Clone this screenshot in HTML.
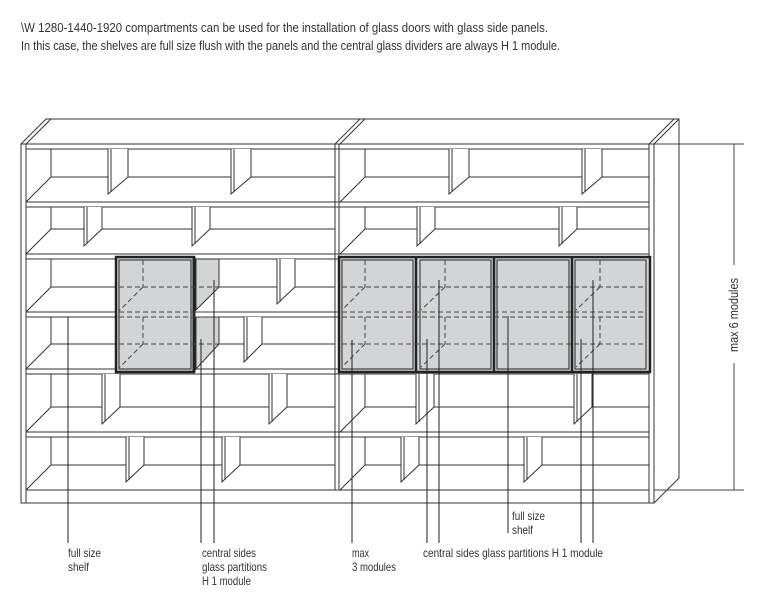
<!DOCTYPE html>
<html><head><meta charset="utf-8"><style>
html,body{margin:0;padding:0;background:#fff;}
svg{display:block;}
text{font-family:"Liberation Sans",sans-serif;fill:#333;}
</style></head><body>
<svg width="784" height="609" viewBox="0 0 784 609" xmlns="http://www.w3.org/2000/svg">
<text x="21" y="32" font-size="13" textLength="527" lengthAdjust="spacingAndGlyphs">\W 1280-1440-1920 compartments can be used for the installation of glass doors with glass side panels.</text>
<text x="21" y="50" font-size="13" textLength="539" lengthAdjust="spacingAndGlyphs">In this case, the shelves are full size flush with the panels and the central glass dividers are always H 1 module.</text>

<g fill="none" stroke="#333" stroke-width="1">
<polyline points="21,144 46,119 679,119 679,478 654,503"/>
<line x1="26" y1="144" x2="51" y2="119"/>
<line x1="335" y1="144" x2="360" y2="119"/>
<line x1="340" y1="144" x2="365" y2="119"/>
<line x1="649" y1="144" x2="674" y2="119"/>
<line x1="654" y1="144" x2="679" y2="119"/>
<rect x="21" y="144" width="633" height="359"/>
<line x1="26" y1="144" x2="26" y2="503"/>
<line x1="335" y1="144" x2="335" y2="490"/>
<line x1="339" y1="144" x2="339" y2="490"/>
<line x1="649" y1="144" x2="649" y2="503"/>
<line x1="26" y1="490" x2="649" y2="490"/>
<path d="M26 149H649 M26 202H649 M26 207H649 M26 254H649 M26 259H649 M26 312H649 M26 317H649 M26 369H649 M26 374H649 M26 432H649 M26 437H649"/>
<path d="M51 149V177H335 M51 177L26 202 M51 207V229H335 M51 229L26 254 M51 259V287H335 M51 287L26 312 M51 317V344H335 M51 344L26 369 M51 374V407H335 M51 407L26 432 M51 437V465H335 M51 465L26 490"/>
<path d="M365 149V177H649 M365 177L340 202 M365 207V229H649 M365 229L340 254 M365 259V287H649 M365 287L340 312 M365 317V344H649 M365 344L340 369 M365 374V407H649 M365 407L340 432 M365 437V465H649 M365 465L340 490"/>
</g>

<g fill="#fff" stroke="#333" stroke-width="1">
<path d="M108 149V194L128 177V149 M111 149V192"/>
<path d="M231 149V194L251 177V149 M234 149V192"/>
<path d="M449 149V194L469 177V149 M452 149V192"/>
<path d="M582 149V194L602 177V149 M585 149V192"/>
<path d="M84 207V246L102 229V207 M87 207V244"/>
<path d="M192 207V246L210 229V207 M195 207V244"/>
<path d="M417 207V246L435 229V207 M420 207V244"/>
<path d="M559 207V246L577 229V207 M562 207V244"/>
<path d="M277 259V304L295 287V259 M280 259V302"/>
<path d="M244 317V362L262 344V317 M247 317V360"/>
<path d="M102 374V424L120 407V374 M105 374V422"/>
<path d="M269 374V424L287 407V374 M272 374V422"/>
<path d="M416 374V424L434 407V374 M419 374V422"/>
<path d="M574 374V424L592 407V374 M577 374V422"/>
<path d="M126 437V482L144 465V437 M129 437V480"/>
<path d="M222 437V482L240 465V437 M225 437V480"/>
<path d="M401 437V482L419 465V437 M404 437V480"/>
<path d="M524 437V482L542 465V437 M527 437V480"/>
</g>

<g>
<polygon points="196,259 219,259 219,287 196,310" fill="#d3d4d6" stroke="#333"/>
<polygon points="196,317 219,317 219,344 196,369" fill="#d3d4d6" stroke="#333"/>
<rect x="116" y="257" width="78" height="115" fill="#d3d4d6" stroke="#222" stroke-width="2.5"/>
<rect x="119" y="260" width="72" height="109" fill="none" stroke="#222" stroke-width="1"/>
<line x1="194" y1="257" x2="194" y2="372" stroke="#222" stroke-width="3"/>
<g stroke="#444" stroke-dasharray="5,3" fill="none">
<path d="M143 260V287 M119 287H219 M143 287L119 311 M119 312H219 M119 317H219 M143 317V344 M119 344H219 M143 344L119 368"/>
</g>
</g>

<g>
<rect x="339" y="257" width="311" height="115" fill="#d3d4d6" stroke="#222" stroke-width="2.5"/>
<g fill="none" stroke="#222" stroke-width="1">
<rect x="342" y="260" width="71" height="109"/>
<rect x="420" y="260" width="71" height="109"/>
<rect x="497" y="260" width="72" height="109"/>
<rect x="575" y="260" width="71" height="109"/>
</g>
<g stroke="#222" stroke-width="2.5">
<line x1="416" y1="257" x2="416" y2="372"/>
<line x1="494" y1="257" x2="494" y2="372"/>
<line x1="572" y1="257" x2="572" y2="372"/>
</g>
<g stroke="#444" stroke-dasharray="5,3" fill="none">
<path d="M342 287H646 M342 312H646 M342 317H646 M342 344H646"/>
<path d="M365 260V287 M365 287L342 310 M365 317V344 M365 344L342 367"/>
<path d="M445 260V287 M445 287L421 310 M445 317V344 M445 344L421 367"/>
<path d="M600 260V287 M600 287L576 310 M600 317V344 M600 344L576 367"/>
</g>
</g>

<g stroke="#222" stroke-width="1">
<line x1="68" y1="317" x2="68" y2="543"/>
<line x1="201" y1="339" x2="201" y2="543"/>
<line x1="214" y1="280" x2="214" y2="543"/>
<line x1="352" y1="340" x2="352" y2="543"/>
<line x1="427" y1="339" x2="427" y2="543"/>
<line x1="439" y1="280" x2="439" y2="543"/>
<line x1="508" y1="316" x2="508" y2="533"/>
<line x1="581" y1="339" x2="581" y2="543"/>
<line x1="593" y1="280" x2="593" y2="543"/>
</g>

<g stroke="#444" stroke-width="1">
<line x1="654" y1="144" x2="744" y2="144"/>
<line x1="654" y1="490" x2="744" y2="490"/>
<line x1="734" y1="144" x2="734" y2="265"/>
<line x1="734" y1="363" x2="734" y2="490"/>
</g>
<text x="0" y="0" font-size="12.5" text-anchor="middle" transform="translate(738,315) rotate(-90)" textLength="74" lengthAdjust="spacingAndGlyphs">max 6 modules</text>

<g font-size="12">
<text x="68" y="557" textLength="33" lengthAdjust="spacingAndGlyphs">full size</text>
<text x="68" y="571" textLength="21" lengthAdjust="spacingAndGlyphs">shelf</text>
<text x="202" y="557" textLength="54" lengthAdjust="spacingAndGlyphs">central sides</text>
<text x="202" y="571" textLength="65" lengthAdjust="spacingAndGlyphs">glass partitions</text>
<text x="202" y="585" textLength="49" lengthAdjust="spacingAndGlyphs">H 1 module</text>
<text x="352" y="557" textLength="17" lengthAdjust="spacingAndGlyphs">max</text>
<text x="352" y="571" textLength="44" lengthAdjust="spacingAndGlyphs">3 modules</text>
<text x="423" y="557" textLength="180" lengthAdjust="spacingAndGlyphs">central sides glass partitions H 1 module</text>
<text x="512" y="520" textLength="33" lengthAdjust="spacingAndGlyphs">full size</text>
<text x="512" y="534" textLength="21" lengthAdjust="spacingAndGlyphs">shelf</text>
</g>
</svg>
</body></html>
